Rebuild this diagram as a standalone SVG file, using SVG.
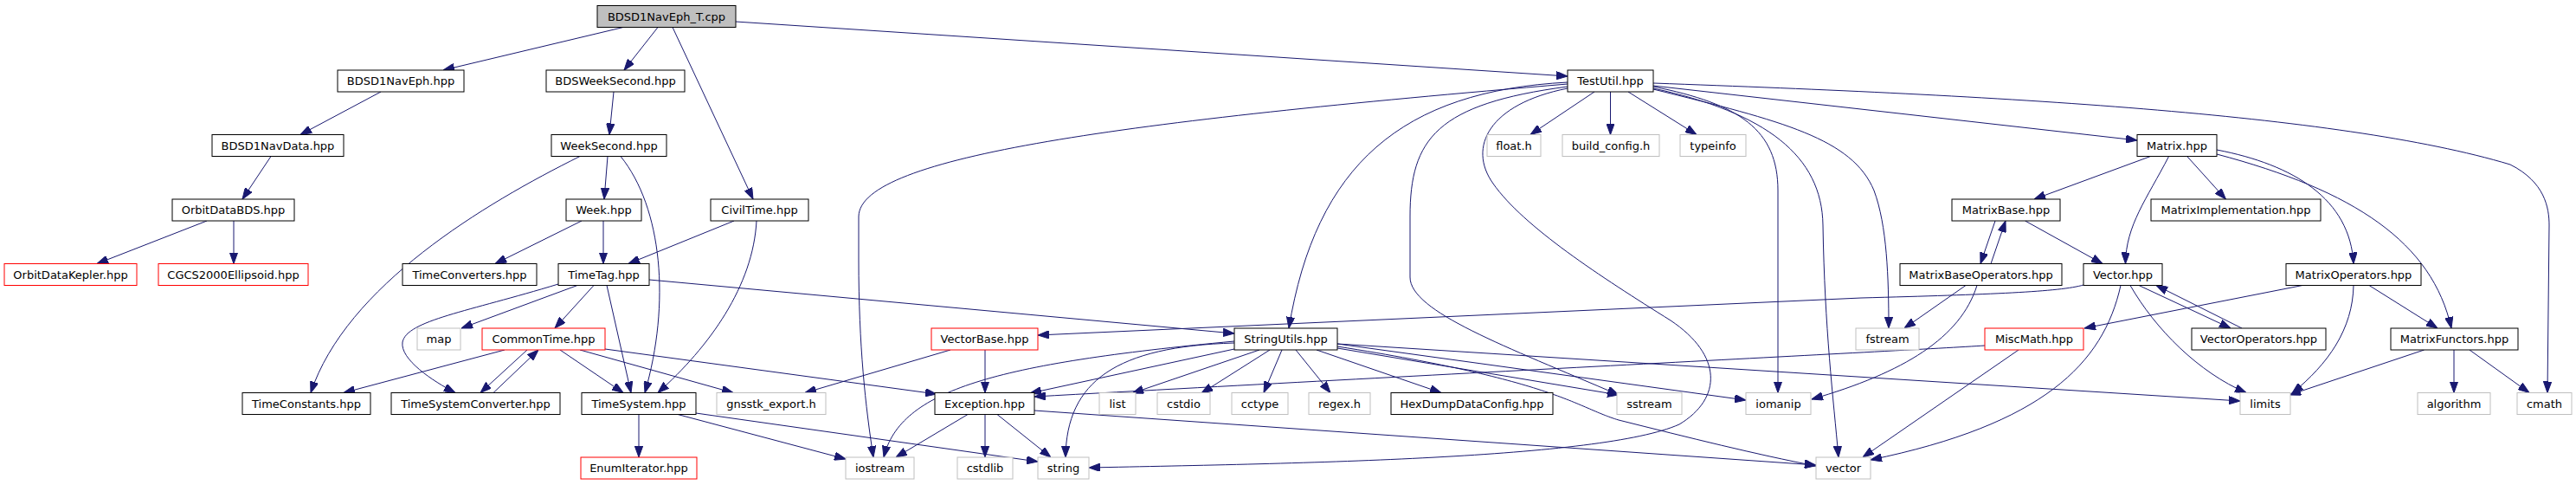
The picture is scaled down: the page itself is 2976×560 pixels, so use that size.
<svg xmlns="http://www.w3.org/2000/svg" width="2976" height="560" viewBox="0 0 2976 560">
<style>
.n rect{fill:#ffffff;stroke:#000000;stroke-width:1}
.n.g rect{stroke:#bfbfbf}
.n.r rect{stroke:#ff0000}
.n.root rect{fill:#bfbfbf}
.n text{font-family:"DejaVu Sans","Liberation Sans",sans-serif;font-size:13px;text-anchor:middle;fill:#000}
.e path{fill:none;stroke:#191970;stroke-width:1;marker-end:url(#a)}
</style>
<defs>
<marker id="a" viewBox="0 0 13 9.4" refX="13" refY="4.7" markerWidth="13" markerHeight="9.4" markerUnits="userSpaceOnUse" orient="auto">
<path d="M0,0 L13,4.7 L0,9.4 z" fill="#191970" stroke="#191970" stroke-width="1"/>
</marker>
</defs>
<rect width="2976" height="560" fill="#ffffff"/>
<g id="edges" class="e">
<path d="M850,25 L1811,88"/>
<path d="M720,31.5 L512,81"/>
<path d="M760,31.5 L721,81"/>
<path d="M777,31.5 L870,230"/>
<path d="M440,106 L347,155.5"/>
<path d="M313,180.5 L280,230"/>
<path d="M239,255 L112,304.5"/>
<path d="M270,255 L270,304.5"/>
<path d="M709,106 L704,155.5"/>
<path d="M702,180.5 L698,230"/>
<path d="M670,180.5 C560,235 400,330 359,453.5"/>
<path d="M717,180.5 C765,240 775,350 745,453.5"/>
<path d="M672,255 L572,304.5"/>
<path d="M697,255 L697,304.5"/>
<path d="M848,255 L726,304.5"/>
<path d="M874,255 C870,330 820,400 760,453.5"/>
<path d="M667,329.5 L533,379"/>
<path d="M686,329.5 L641,379"/>
<path d="M701,329.5 L729,453.5"/>
<path d="M645,328 C540,360 470,370 465,395 C462,415 500,440 526,453.5"/>
<path d="M750,323 L1426,385"/>
<path d="M583,404 L397,453.5"/>
<path d="M609,404 L555,453.5"/>
<path d="M570,453.5 L622,404"/>
<path d="M647,404 L720,453.5"/>
<path d="M670,404 L847,453.5"/>
<path d="M699,403 L1082,455"/>
<path d="M738,478.5 L738,528"/>
<path d="M783,478.5 L977,530"/>
<path d="M804,477 L1199,533"/>
<path d="M1098,404 L930,453.5"/>
<path d="M1138,404 L1138,453.5"/>
<path d="M1118,478.5 L1035,528"/>
<path d="M1138,478.5 L1138,528"/>
<path d="M1152,478.5 L1214,528"/>
<path d="M1195,474 L2098,537"/>
<path d="M1426,403 L1190,454"/>
<path d="M1426,394 C1150,420 1040,450 1021,528"/>
<path d="M1426,396 C1290,400 1232,440 1231,528"/>
<path d="M1455,404 L1308,454"/>
<path d="M1467,404 L1388,454"/>
<path d="M1481,404 L1460,453.5"/>
<path d="M1497,404 L1537,453.5"/>
<path d="M1521,404 L1665,453.5"/>
<path d="M1545,402 L1870,456"/>
<path d="M1545,397 L2017,462"/>
<path d="M1545,400 C1800,440 1820,470 1870,485 C1950,505 2030,525 2098,538"/>
<path d="M1545,397 L2588,463"/>
<path d="M1842,106 L1768,155.5"/>
<path d="M1860.5,106 L1860.5,155.5"/>
<path d="M1881,106 L1960,155.5"/>
<path d="M1811,95 C1620,105 1520,190 1489,379"/>
<path d="M1811,97 C1300,140 993,180 992,250 L992,300 C992,400 1000,470 1009,528"/>
<path d="M1811,102 C1720,120 1695,170 1725,212 C1760,262 1850,320 1930,370 C1990,410 1990,460 1940,490 C1850,530 1500,535 1258,540"/>
<path d="M1811,100 C1660,120 1629,160 1629,250 L1629,320 C1629,360 1740,400 1870,456"/>
<path d="M1910,100 C2010,120 2054,150 2054,220 L2054,453.5"/>
<path d="M1910,102 C2040,130 2105,180 2106,260 C2108,380 2118,460 2124,528"/>
<path d="M1910,103 C2060,140 2140,160 2165,220 C2180,260 2182,320 2182,379"/>
<path d="M1910,96 C2300,110 2700,130 2900,190 C2940,210 2945,240 2945,260 L2943,453.5"/>
<path d="M1910,99 L2469,162"/>
<path d="M2484.5,180.5 L2350,230"/>
<path d="M2505.6,180.5 C2480,230 2456,260 2455.5,304.5"/>
<path d="M2526.7,180.5 L2571.4,230"/>
<path d="M2561,173 C2650,190 2715,230 2719,304.5"/>
<path d="M2561,178 C2720,220 2810,280 2832,379"/>
<path d="M2305,255 L2288,304.5"/>
<path d="M2300,304.5 L2317,255"/>
<path d="M2339.6,255 L2429,304.5"/>
<path d="M2271,329.5 L2200,379"/>
<path d="M2284,329.5 C2265,390 2200,430 2093,461"/>
<path d="M2407,329 C2380,337 2300,340 2150,344 L1199,387"/>
<path d="M2471,329.5 L2577,379"/>
<path d="M2590,379 L2491,329.5"/>
<path d="M2461,329.5 C2490,380 2540,430 2595,453.5"/>
<path d="M2450,329.5 C2430,420 2360,490 2161,531"/>
<path d="M2332,404 L2152,528"/>
<path d="M2293,399 C2200,405 1700,430 1195,458"/>
<path d="M2660,329.5 L2408,379"/>
<path d="M2719,329.5 C2718,380 2690,420 2648,454"/>
<path d="M2737,329.5 L2816,379"/>
<path d="M2800.6,404 L2645,456"/>
<path d="M2835,404 L2835,453.5"/>
<path d="M2853,404 L2922,453.5"/>
</g>
<g id="n_root" class="n root"><rect x="690" y="6.5" width="160" height="25"/><text x="770" y="23.5">BDSD1NavEph_T.cpp</text></g>
<g id="n_BDSD1NavEph" class="n"><rect x="390" y="81" width="146" height="25"/><text x="463" y="98">BDSD1NavEph.hpp</text></g>
<g id="n_BDSWeekSecond" class="n"><rect x="631" y="81" width="160" height="25"/><text x="711" y="98">BDSWeekSecond.hpp</text></g>
<g id="n_TestUtil" class="n"><rect x="1811" y="81" width="99" height="25"/><text x="1860.5" y="98">TestUtil.hpp</text></g>
<g id="n_BDSD1NavData" class="n"><rect x="245" y="155.5" width="152" height="25"/><text x="321" y="172.5">BDSD1NavData.hpp</text></g>
<g id="n_WeekSecond" class="n"><rect x="637" y="155.5" width="133" height="25"/><text x="703.5" y="172.5">WeekSecond.hpp</text></g>
<g id="n_float" class="n g"><rect x="1718" y="155.5" width="62" height="25"/><text x="1749" y="172.5">float.h</text></g>
<g id="n_build_config" class="n g"><rect x="1805" y="155.5" width="112" height="25"/><text x="1861" y="172.5">build_config.h</text></g>
<g id="n_typeinfo" class="n g"><rect x="1941" y="155.5" width="76" height="25"/><text x="1979" y="172.5">typeinfo</text></g>
<g id="n_Matrix" class="n"><rect x="2469" y="155.5" width="92" height="25"/><text x="2515" y="172.5">Matrix.hpp</text></g>
<g id="n_OrbitDataBDS" class="n"><rect x="199" y="230" width="141" height="25"/><text x="269.5" y="247">OrbitDataBDS.hpp</text></g>
<g id="n_Week" class="n"><rect x="654" y="230" width="87" height="25"/><text x="697.5" y="247">Week.hpp</text></g>
<g id="n_CivilTime" class="n"><rect x="821" y="230" width="113" height="25"/><text x="877.5" y="247">CivilTime.hpp</text></g>
<g id="n_MatrixBase" class="n"><rect x="2255" y="230" width="125" height="25"/><text x="2317.5" y="247">MatrixBase.hpp</text></g>
<g id="n_MatrixImplementation" class="n"><rect x="2485" y="230" width="196" height="25"/><text x="2583" y="247">MatrixImplementation.hpp</text></g>
<g id="n_OrbitDataKepler" class="n r"><rect x="5" y="304.5" width="153" height="25"/><text x="81.5" y="321.5">OrbitDataKepler.hpp</text></g>
<g id="n_CGCS2000Ellipsoid" class="n r"><rect x="183" y="304.5" width="173" height="25"/><text x="269.5" y="321.5">CGCS2000Ellipsoid.hpp</text></g>
<g id="n_TimeConverters" class="n"><rect x="465" y="304.5" width="155" height="25"/><text x="542.5" y="321.5">TimeConverters.hpp</text></g>
<g id="n_TimeTag" class="n"><rect x="645" y="304.5" width="105" height="25"/><text x="697.5" y="321.5">TimeTag.hpp</text></g>
<g id="n_MatrixBaseOperators" class="n"><rect x="2195" y="304.5" width="187" height="25"/><text x="2288.5" y="321.5">MatrixBaseOperators.hpp</text></g>
<g id="n_Vector" class="n"><rect x="2407" y="304.5" width="91" height="25"/><text x="2452.5" y="321.5">Vector.hpp</text></g>
<g id="n_MatrixOperators" class="n"><rect x="2641" y="304.5" width="156" height="25"/><text x="2719" y="321.5">MatrixOperators.hpp</text></g>
<g id="n_map" class="n g"><rect x="482" y="379" width="50" height="25"/><text x="507" y="396">map</text></g>
<g id="n_CommonTime" class="n r"><rect x="557" y="379" width="142" height="25"/><text x="628" y="396">CommonTime.hpp</text></g>
<g id="n_VectorBase" class="n r"><rect x="1076" y="379" width="123" height="25"/><text x="1137.5" y="396">VectorBase.hpp</text></g>
<g id="n_StringUtils" class="n"><rect x="1426" y="379" width="119" height="25"/><text x="1485.5" y="396">StringUtils.hpp</text></g>
<g id="n_fstream" class="n g"><rect x="2144" y="379" width="73" height="25"/><text x="2180.5" y="396">fstream</text></g>
<g id="n_MiscMath" class="n r"><rect x="2293" y="379" width="114" height="25"/><text x="2350" y="396">MiscMath.hpp</text></g>
<g id="n_VectorOperators" class="n"><rect x="2532" y="379" width="155" height="25"/><text x="2609.5" y="396">VectorOperators.hpp</text></g>
<g id="n_MatrixFunctors" class="n"><rect x="2762" y="379" width="147" height="25"/><text x="2835.5" y="396">MatrixFunctors.hpp</text></g>
<g id="n_TimeConstants" class="n"><rect x="280" y="453.5" width="148" height="25"/><text x="354" y="470.5">TimeConstants.hpp</text></g>
<g id="n_TimeSystemConverter" class="n"><rect x="452" y="453.5" width="195" height="25"/><text x="549.5" y="470.5">TimeSystemConverter.hpp</text></g>
<g id="n_TimeSystem" class="n"><rect x="672" y="453.5" width="132" height="25"/><text x="738" y="470.5">TimeSystem.hpp</text></g>
<g id="n_gnsstk_export" class="n g"><rect x="828" y="453.5" width="126" height="25"/><text x="891" y="470.5">gnsstk_export.h</text></g>
<g id="n_Exception" class="n"><rect x="1080" y="453.5" width="115" height="25"/><text x="1137.5" y="470.5">Exception.hpp</text></g>
<g id="n_list" class="n g"><rect x="1270" y="453.5" width="42" height="25"/><text x="1291" y="470.5">list</text></g>
<g id="n_cstdio" class="n g"><rect x="1337" y="453.5" width="61" height="25"/><text x="1367.5" y="470.5">cstdio</text></g>
<g id="n_cctype" class="n g"><rect x="1423" y="453.5" width="65" height="25"/><text x="1455.5" y="470.5">cctype</text></g>
<g id="n_regex" class="n g"><rect x="1512" y="453.5" width="71" height="25"/><text x="1547.5" y="470.5">regex.h</text></g>
<g id="n_HexDumpDataConfig" class="n"><rect x="1607" y="453.5" width="187" height="25"/><text x="1700.5" y="470.5">HexDumpDataConfig.hpp</text></g>
<g id="n_sstream" class="n g"><rect x="1868" y="453.5" width="75" height="25"/><text x="1905.5" y="470.5">sstream</text></g>
<g id="n_iomanip" class="n g"><rect x="2017" y="453.5" width="75" height="25"/><text x="2054.5" y="470.5">iomanip</text></g>
<g id="n_limits" class="n g"><rect x="2588" y="453.5" width="58" height="25"/><text x="2617" y="470.5">limits</text></g>
<g id="n_algorithm" class="n g"><rect x="2793" y="453.5" width="84" height="25"/><text x="2835" y="470.5">algorithm</text></g>
<g id="n_cmath" class="n g"><rect x="2908" y="453.5" width="63" height="25"/><text x="2939.5" y="470.5">cmath</text></g>
<g id="n_EnumIterator" class="n r"><rect x="671" y="528" width="134" height="25"/><text x="738" y="545">EnumIterator.hpp</text></g>
<g id="n_iostream" class="n g"><rect x="977" y="528" width="79" height="25"/><text x="1016.5" y="545">iostream</text></g>
<g id="n_cstdlib" class="n g"><rect x="1106" y="528" width="64" height="25"/><text x="1138" y="545">cstdlib</text></g>
<g id="n_string" class="n g"><rect x="1199" y="528" width="59" height="25"/><text x="1228.5" y="545">string</text></g>
<g id="n_vector" class="n g"><rect x="2098" y="528" width="63" height="25"/><text x="2129.5" y="545">vector</text></g>
</svg>
